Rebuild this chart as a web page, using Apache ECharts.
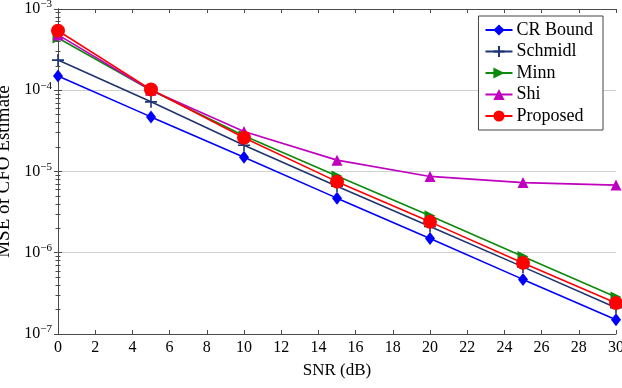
<!DOCTYPE html>
<html>
<head>
<meta charset="utf-8">
<script src="https://cdn.jsdelivr.net/npm/echarts@6/dist/echarts.min.js"></script>
<style>
  html, body { margin: 0; padding: 0; background: #fff; }
  #chart { width: 622px; height: 388px; }
</style>
</head>
<body>
<div id="chart"></div>
<script>
// SNR points (dB)
const snr = [0, 5, 10, 15, 20, 25, 30];

// MSE values
const crBound  = [1.5e-4, 4.7e-5, 1.5e-5, 4.7e-6, 1.5e-6, 4.7e-7, 1.5e-7];
const schmidl  = [2.35e-4, 7.2e-5, 2.1e-5, 6.6e-6, 2.1e-6, 6.7e-7, 2.1e-7];
const minn     = [4.4e-4, 1.0e-4, 2.75e-5, 8.8e-6, 2.85e-6, 9.0e-7, 2.85e-7];
const shi      = [4.8e-4, 1.0e-4, 3.1e-5, 1.38e-5, 8.7e-6, 7.3e-6, 6.8e-6];
const proposed = [5.4e-4, 1.02e-4, 2.6e-5, 7.5e-6, 2.4e-6, 7.5e-7, 2.4e-7];

const names = ['CR Bound', 'Schmidl', 'Minn', 'Shi', 'Proposed'];
const values = [crBound, schmidl, minn, shi, proposed];
const colors = ['#0000ff', '#1f3470', '#0b8a0b', '#bf00bf', '#ff0000'];
const symbols = [
  'diamond',
  'path://M0,5 L10,5 M5,0 L5,10',
  'path://M0,0 L10,5 L0,10 Z',
  'triangle',
  'circle'
];
const symbolSizes = [[10, 13], 12, 11, 11, 14];

const font = 'Liberation Serif';
const axisColor = '#4a4a4a';

const chart = echarts.init(document.getElementById('chart'));

function powLabel(v) {
  const e = Math.round(Math.log10(v));
  return '{b|10}{s|' + String(e).replace('-', '\u2212') + '}';
}

const series = names.map((n, i) => ({
  name: n,
  type: 'line',
  data: snr.map((x, j) => [x, values[i][j]]),
  symbol: symbols[i],
  symbolSize: symbolSizes[i],
  lineStyle: { color: colors[i], width: 1.6 },
  itemStyle: {
    color: colors[i],
    borderColor: colors[i],
    borderWidth: i === 1 ? 1.6 : 0
  },
  z: 2 + i,
  animation: false
}));

chart.setOption({
  animation: false,
  textStyle: { fontFamily: font },
  grid: { left: 58, right: 6, top: 9, bottom: 54, outerBoundsMode: 'none', containLabel: false },
  legend: {
    orient: 'vertical',
    right: 19,
    top: 16,
    itemGap: 3.5,
    itemWidth: 27,
    itemHeight: 14,
    padding: [5, 10, 5, 6],
    borderColor: '#444',
    borderWidth: 1,
    backgroundColor: '#fff',
    textStyle: { fontFamily: font, fontSize: 18, color: '#000', padding: [0, 0, 0, -1] },
    data: names
  },
  xAxis: [{
    type: 'value',
    min: 0, max: 30, interval: 2,
    name: 'SNR (dB)',
    nameLocation: 'middle',
    nameGap: 28,
    nameTextStyle: { fontFamily: font, fontSize: 17, color: '#000' },
    axisLine: { lineStyle: { color: axisColor, width: 1 } },
    axisTick: { inside: true, length: 4, lineStyle: { color: axisColor } },
    axisLabel: { fontFamily: font, fontSize: 16, color: '#000', margin: 6 },
    splitLine: { show: false }
  }, {
    type: 'value',
    position: 'top',
    min: 0, max: 30, interval: 2,
    axisLine: { show: true, lineStyle: { color: axisColor, width: 1 } },
    axisTick: { inside: true, length: 4, lineStyle: { color: axisColor } },
    axisLabel: { show: false },
    splitLine: { show: false }
  }],
  yAxis: [{
    type: 'log',
    logBase: 10,
    min: 1e-7, max: 1e-3,
    name: 'MSE of CFO Estimate',
    nameLocation: 'middle',
    nameGap: 36,
    nameTextStyle: { fontFamily: font, fontSize: 19, color: '#000' },
    axisLine: { show: true, lineStyle: { color: axisColor, width: 1 } },
    axisTick: { inside: true, length: 4, lineStyle: { color: axisColor } },
    minorTick: { show: true, splitNumber: 9, length: 2.5, lineStyle: { color: axisColor } },
    axisLabel: {
      margin: 6,
      formatter: powLabel,
      rich: {
        b: { fontFamily: font, fontSize: 16, color: '#000' },
        s: { fontFamily: font, fontSize: 11, color: '#000', verticalAlign: 'top', padding: [0, 0, 9, 0] }
      }
    },
    splitLine: { show: true, lineStyle: { color: '#cfcfcf', width: 1 } }
  }, {
    type: 'log',
    logBase: 10,
    min: 1e-7, max: 1e-3,
    position: 'right',
    axisLine: { show: true, lineStyle: { color: axisColor, width: 1 } },
    axisTick: { inside: true, length: 4, lineStyle: { color: axisColor } },
    minorTick: { show: true, splitNumber: 9, length: 2.5, lineStyle: { color: axisColor } },
    axisLabel: { show: false },
    splitLine: { show: false }
  }],
  series: series
});
</script>
</body>
</html>
